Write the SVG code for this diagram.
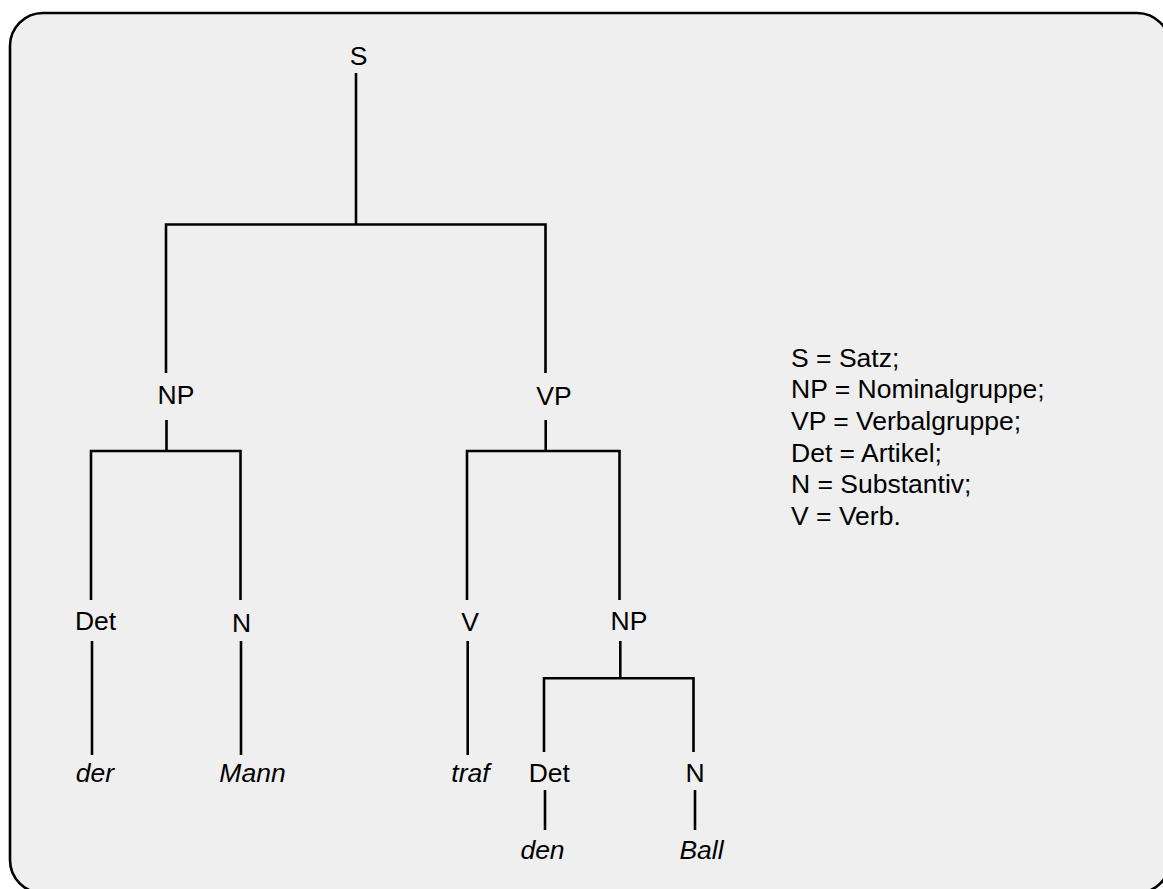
<svg xmlns="http://www.w3.org/2000/svg" width="1163" height="889" viewBox="0 0 1163 889">
<style>
.frame{fill:#efefef;stroke:#000;stroke-width:2.6}
.ln{stroke:#000;stroke-width:2.6;fill:none;stroke-linecap:butt}
text{font-family:"Liberation Sans",Arial,sans-serif;font-size:26.5px;fill:#000}
.c{text-anchor:middle}
.i{font-style:italic}
</style>
<rect id="frame" class="frame" x="10" y="13" width="1160" height="880" rx="33" ry="33"/>
<g id="connectors" class="ln">
<path d="M356 73V225"/>
<path d="M166 373V224.5H545.5V373"/>
<path d="M166.5 420V452"/>
<path d="M91 600V451H240.5V600"/>
<path d="M545.7 420V452"/>
<path d="M467 600V451H619.5V600"/>
<path d="M92 641V755"/>
<path d="M241 641V755"/>
<path d="M467.7 641V755"/>
<path d="M620.3 641V679"/>
<path d="M544 752V678.3H693.5V752"/>
<path d="M545 790V830"/>
<path d="M695 790V830"/>
</g>
<g id="n-S"><text class="c" x="358.5" y="65">S</text></g>
<g id="n-NP1"><text class="c" x="176" y="404">NP</text></g>
<g id="n-VP"><text class="c" x="554" y="405">VP</text></g>
<g id="n-Det1"><text class="c" x="95.5" y="630">Det</text></g>
<g id="n-N1"><text class="c" x="241.5" y="632">N</text></g>
<g id="n-V"><text class="c" x="470" y="631">V</text></g>
<g id="n-NP2"><text class="c" x="629" y="630">NP</text></g>
<g id="n-der"><text class="c i" x="95" y="782">der</text></g>
<g id="n-Mann"><text class="c i" x="252.5" y="782">Mann</text></g>
<g id="n-traf"><text class="c i" x="470.5" y="782">traf</text></g>
<g id="n-Det2"><text class="c" x="549.3" y="782">Det</text></g>
<g id="n-N2"><text class="c" x="695" y="782">N</text></g>
<g id="n-den"><text class="c i" x="542.5" y="859">den</text></g>
<g id="n-Ball"><text class="c i" x="701.5" y="859">Ball</text></g>
<g id="legend">
<text x="791" y="366.7">S = Satz;</text>
<text x="791" y="398.3">NP = Nominalgruppe;</text>
<text x="791" y="430">VP = Verbalgruppe;</text>
<text x="791" y="461.7">Det = Artikel;</text>
<text x="791" y="493.3">N = Substantiv;</text>
<text x="791" y="525">V = Verb.</text>
</g>
</svg>
